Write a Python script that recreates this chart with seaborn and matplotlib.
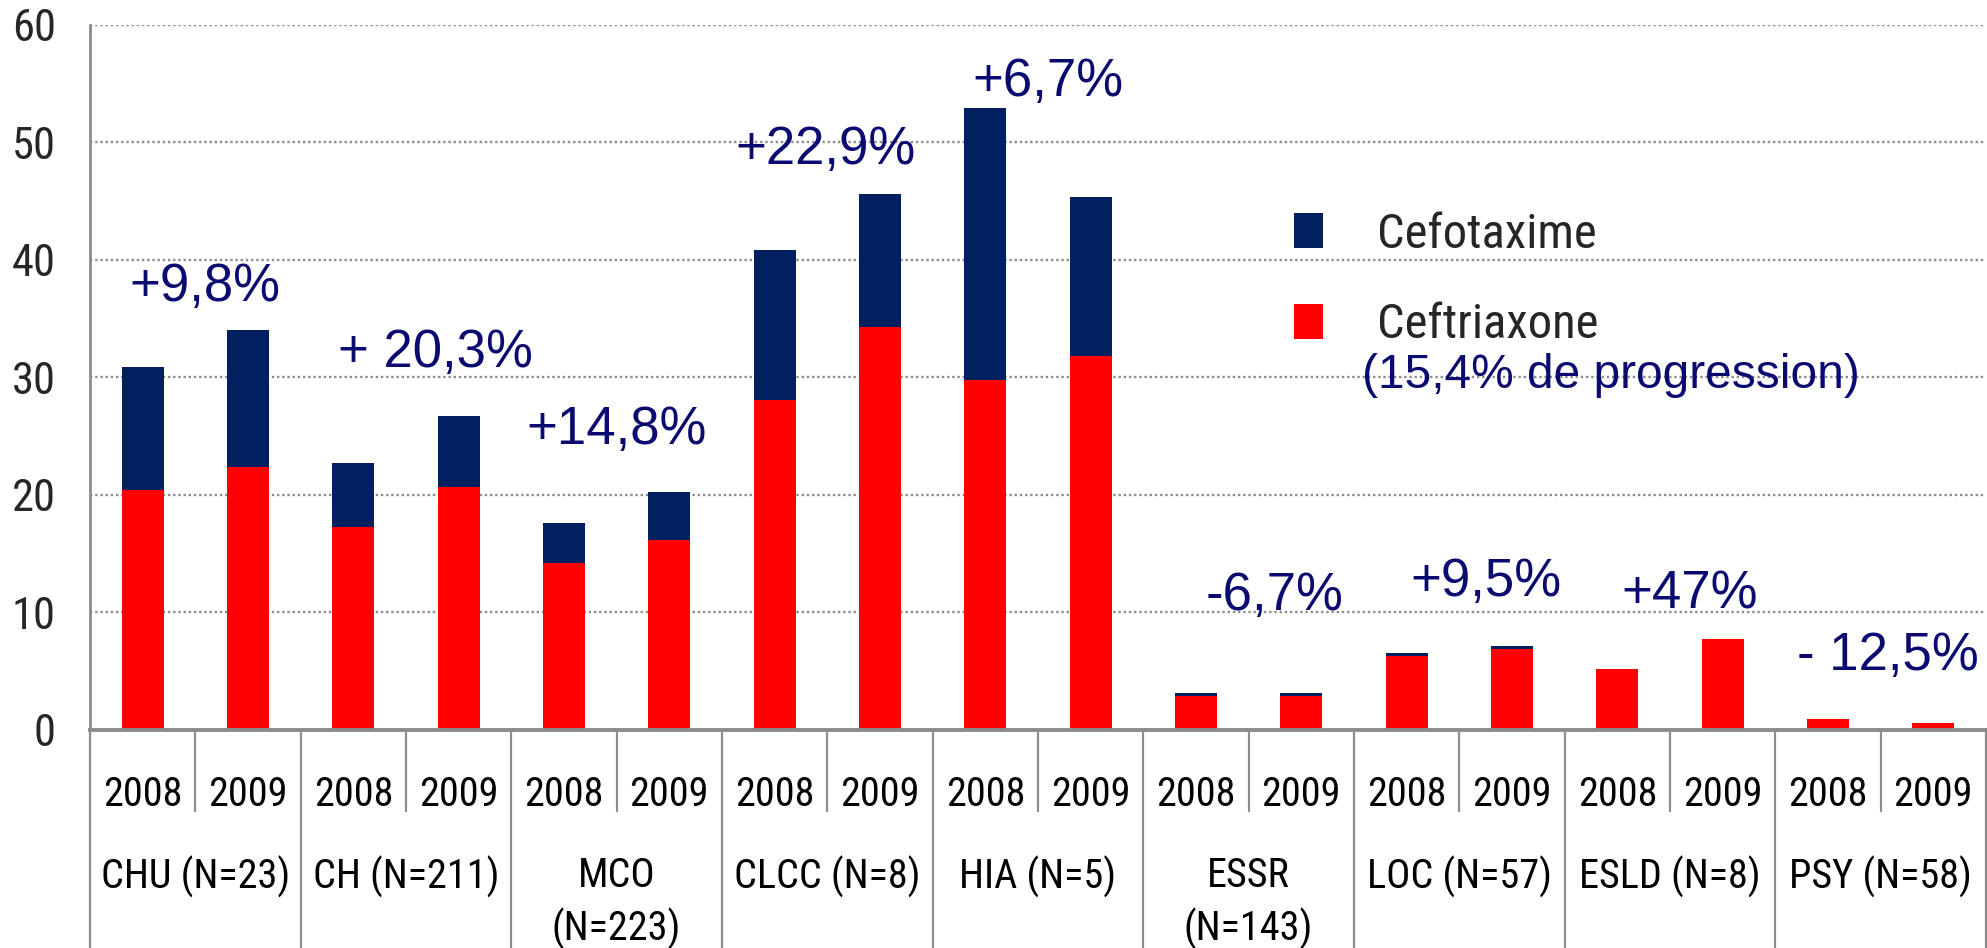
import numpy as np
import pandas as pd
import matplotlib
matplotlib.use("Agg")
import matplotlib.pyplot as plt
import seaborn as sns
from matplotlib import font_manager
from matplotlib.patches import Patch
from matplotlib.transforms import blended_transform_factory

# ---------------- data ----------------
groups = ["CHU (N=23)", "CH (N=211)", "MCO\n(N=223)", "CLCC (N=8)", "HIA (N=5)",
          "ESSR\n(N=143)", "LOC (N=57)", "ESLD (N=8)", "PSY (N=58)"]
years = ["2008", "2009"]
ceftriaxone = [20.4, 22.4, 17.3, 20.7, 14.2, 16.2, 28.1, 34.3, 29.8, 31.8,
               2.9, 2.9, 6.3, 6.9, 5.2, 7.7, 0.9, 0.6]
cefotaxime = [10.5, 11.6, 5.4, 6.0, 3.4, 4.0, 12.7, 11.3, 23.1, 13.5,
              0.25, 0.25, 0.25, 0.25, 0.0, 0.0, 0.0, 0.0]
progression = ["+9,8%", "+ 20,3%", "+14,8%", "+22,9%", "+6,7%",
               "-6,7%", "+9,5%", "+47%", "- 12,5%"]
legend_labels = ["Cefotaxime", "Ceftriaxone"]
legend_note = "(15,4% de progression)"
y_ticks = [0, 10, 20, 30, 40, 50, 60]

# ---------------- layout / style ----------------
W, H = 1987, 948
NAVY = "#002060"
RED = "#FF0000"
TXT_BLUE = "#0A0A70"
GRAY = "#8C8C8C"
# annotation anchor positions (x in category units, y baseline in data units)
label_pos = [(0.59, 36.5), (2.78, 30.9), (4.5, 24.3), (6.48, 48.1), (8.59, 53.9),
             (10.75, 10.2), (12.75, 11.4), (14.69, 10.3), (16.57, 5.1)]

sns.set_style("white")
names = {f.name for f in font_manager.fontManager.ttflist}
narrow = next((n for n in ["Liberation Sans Narrow", "Roboto Condensed",
                           "Open Sans Condensed"] if n in names), None)
if narrow is None:
    narrow_kw = dict(family="Liberation Sans", fontstretch="condensed")
    small = 25
else:
    narrow_kw = dict(family=narrow)
    small = 29
plt.rcParams["font.family"] = ["Liberation Sans", "DejaVu Sans"]

rows = []
for gi, g in enumerate(groups):
    for yi, y in enumerate(years):
        i = gi * 2 + yi
        rows.append({"slot": g.replace("\n", " ") + " " + y,
                     "year": y,
                     "ceftriaxone": ceftriaxone[i],
                     "total": ceftriaxone[i] + cefotaxime[i]})
df = pd.DataFrame(rows)
order = list(df["slot"])

fig = plt.figure(figsize=(W / 100, H / 100), dpi=100)
ax = fig.add_axes([90 / W, (H - 730) / H, (1986 - 90) / W, (730 - 24.5) / H])

sns.barplot(data=df, x="slot", y="total", order=order, color=NAVY, saturation=1,
            width=0.4, linewidth=0, errorbar=None, ax=ax, zorder=2)
sns.barplot(data=df, x="slot", y="ceftriaxone", order=order, color=RED, saturation=1,
            width=0.4, linewidth=0, errorbar=None, ax=ax, zorder=3)

ax.set_xlim(-0.5, len(order) - 0.5)
ax.set_ylim(0, 60)
ax.set_yticks(y_ticks)
ax.set_xlabel("")
ax.set_ylabel("")
ax.tick_params(axis="x", length=0, labelbottom=False)
ax.tick_params(axis="y", length=9.5, width=2, color=GRAY, pad=15, labelsize=small + 3)
for lab in ax.get_yticklabels():
    lab.set(**narrow_kw)
ax.yaxis.grid(True, linestyle=(0, (1, 1.2)), color=GRAY, linewidth=1.7)
ax.set_axisbelow(True)
for s in ["top", "right"]:
    ax.spines[s].set_visible(False)
ax.spines["left"].set_color(GRAY)
ax.spines["left"].set_linewidth(2)
ax.spines["bottom"].set_color(GRAY)
ax.spines["bottom"].set_linewidth(2.8)
ax.spines["bottom"].set_zorder(5)

# ---------------- category table below the axis ----------------
trans = blended_transform_factory(ax.transData, fig.transFigure)
fy = lambda p: (H - p) / H
n_groups = len(groups)
for g in range(n_groups):
    x = 2 * g + 0.5
    ax.plot([x, x], [fy(732), fy(811)], transform=trans, clip_on=False,
            color=GRAY, lw=1.6)
for g in range(n_groups + 1):
    x = 2 * g - 0.5
    ax.plot([x, x], [fy(732), fy(H)], transform=trans, clip_on=False,
            color=GRAY, lw=1.6)
for i, r in df.iterrows():
    ax.text(i, fy(795), r["year"], transform=trans, ha="center", va="center",
            fontsize=small, color="black", **narrow_kw)
for g, name in enumerate(groups):
    ax.text(2 * g + 0.5, fy(856), name, transform=trans, ha="center", va="top",
            fontsize=small, color="black", linespacing=1.4, **narrow_kw)

# ---------------- progression labels ----------------
for txt, (x, y) in zip(progression, label_pos):
    ax.text(x, y, txt, ha="center", va="baseline", fontsize=38, color=TXT_BLUE,
            family="Liberation Sans", zorder=6)

# ---------------- legend ----------------
handles = [Patch(facecolor=NAVY, edgecolor="none"), Patch(facecolor=RED, edgecolor="none")]
prop_kw = {("stretch" if k == "fontstretch" else k): v for k, v in narrow_kw.items()}
leg = fig.legend(handles, legend_labels, loc="center left",
                 bbox_to_anchor=(1294 / W, fy(280)), frameon=False, borderpad=0,
                 borderaxespad=0,
                 handlelength=0.6, handleheight=0.72, handletextpad=1.1,
                 labelspacing=0.92,
                 prop=font_manager.FontProperties(size=small + 6, **prop_kw))
fig.text(1611 / W, fy(375), legend_note, ha="center", va="center", fontsize=34.5,
         color=TXT_BLUE, family="Liberation Sans")

fig.savefig("out.png", dpi=100)
